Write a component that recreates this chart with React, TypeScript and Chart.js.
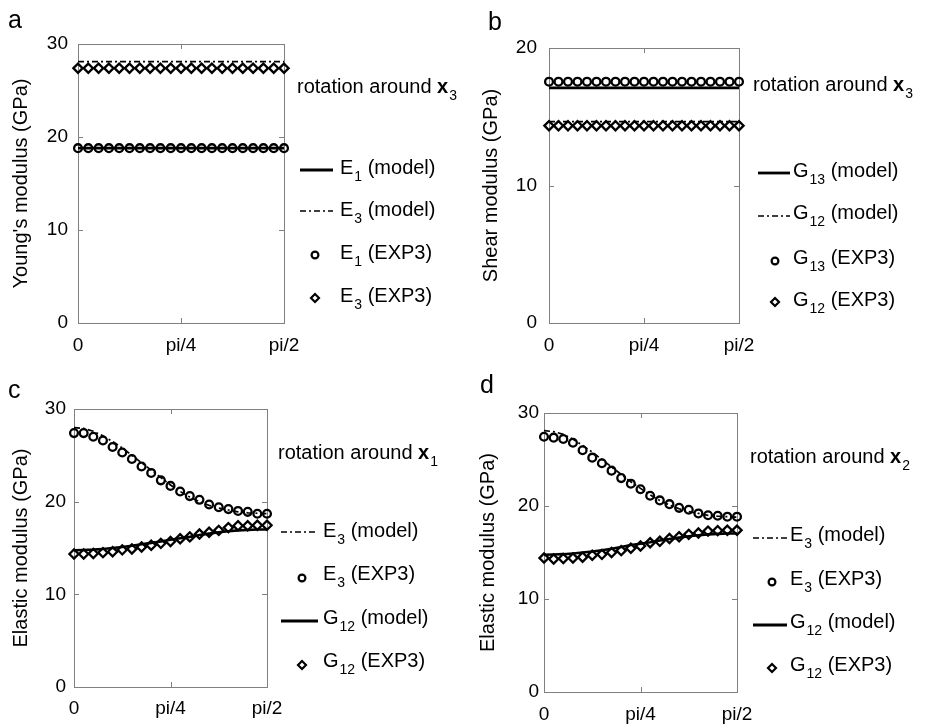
import React, { useEffect, useRef } from "react";
import { Chart, registerables } from "chart.js";
Chart.register(...registerables);

// ---------- data ----------
const angles = [0, 4.5, 9, 13.5, 18, 22.5, 27, 31.5, 36, 40.5, 45, 49.5, 54, 58.5, 63, 67.5, 72, 76.5, 81, 85.5, 90];
const xTickValues = [0, 45, 90];
const xTickLabels = ["0", "pi/4", "pi/2"];

// panel a
const aYTicks = [0, 10, 20, 30];
const aE1Model = [18.8, 18.8, 18.8, 18.8, 18.8, 18.8, 18.8, 18.8, 18.8, 18.8, 18.8, 18.8, 18.8, 18.8, 18.8, 18.8, 18.8, 18.8, 18.8, 18.8, 18.8];
const aE3Model = [28.1, 28.1, 28.1, 28.1, 28.1, 28.1, 28.1, 28.1, 28.1, 28.1, 28.1, 28.1, 28.1, 28.1, 28.1, 28.1, 28.1, 28.1, 28.1, 28.1, 28.1];
const aE1Exp = [18.8, 18.8, 18.8, 18.8, 18.8, 18.8, 18.8, 18.8, 18.8, 18.8, 18.8, 18.8, 18.8, 18.8, 18.8, 18.8, 18.8, 18.8, 18.8, 18.8, 18.8];
const aE3Exp = [27.4, 27.4, 27.4, 27.4, 27.4, 27.4, 27.4, 27.4, 27.4, 27.4, 27.4, 27.4, 27.4, 27.4, 27.4, 27.4, 27.4, 27.4, 27.4, 27.4, 27.4];

// panel b
const bYTicks = [0, 10, 20];
const bG13Model = [17.1, 17.1, 17.1, 17.1, 17.1, 17.1, 17.1, 17.1, 17.1, 17.1, 17.1, 17.1, 17.1, 17.1, 17.1, 17.1, 17.1, 17.1, 17.1, 17.1, 17.1];
const bG12Model = [14.65, 14.65, 14.65, 14.65, 14.65, 14.65, 14.65, 14.65, 14.65, 14.65, 14.65, 14.65, 14.65, 14.65, 14.65, 14.65, 14.65, 14.65, 14.65, 14.65, 14.65];
const bG13Exp = [17.55, 17.55, 17.55, 17.55, 17.55, 17.55, 17.55, 17.55, 17.55, 17.55, 17.55, 17.55, 17.55, 17.55, 17.55, 17.55, 17.55, 17.55, 17.55, 17.55, 17.55];
const bG12Exp = [14.35, 14.35, 14.35, 14.35, 14.35, 14.35, 14.35, 14.35, 14.35, 14.35, 14.35, 14.35, 14.35, 14.35, 14.35, 14.35, 14.35, 14.35, 14.35, 14.35, 14.35];

// panel c
const cYTicks = [0, 10, 20, 30];
const cE3Model = [28.0, 27.9, 27.6, 27.1, 26.5, 25.8, 25.0, 24.2, 23.4, 22.6, 21.8, 21.1, 20.5, 20.0, 19.6, 19.3, 19.1, 18.9, 18.8, 18.75, 18.7];
const cE3Exp = [27.4, 27.4, 27.0, 26.6, 25.9, 25.3, 24.6, 23.8, 23.1, 22.3, 21.7, 21.1, 20.6, 20.2, 19.7, 19.4, 19.2, 19.0, 18.9, 18.7, 18.7];
const cG12Model = [14.75, 14.78, 14.82, 14.9, 15.0, 15.1, 15.25, 15.4, 15.55, 15.7, 15.9, 16.05, 16.2, 16.4, 16.55, 16.7, 16.8, 16.9, 16.95, 17.0, 17.0];
const cG12Exp = [14.35, 14.35, 14.4, 14.5, 14.6, 14.8, 14.9, 15.1, 15.3, 15.5, 15.7, 16.0, 16.2, 16.5, 16.7, 16.9, 17.2, 17.4, 17.4, 17.45, 17.45];

// panel d
const dYTicks = [0, 10, 20, 30];
const dE3Model = [28.1, 28.0, 27.7, 27.2, 26.5, 25.8, 25.0, 24.2, 23.4, 22.6, 21.9, 21.2, 20.6, 20.1, 19.7, 19.4, 19.2, 19.0, 18.9, 18.85, 18.8];
const dE3Exp = [27.45, 27.35, 27.2, 26.8, 26.0, 25.2, 24.6, 23.8, 23.0, 22.4, 21.8, 21.1, 20.6, 20.2, 19.8, 19.6, 19.2, 19.0, 18.95, 18.85, 18.85];
const dG12Model = [14.75, 14.78, 14.82, 14.9, 15.0, 15.1, 15.25, 15.4, 15.6, 15.8, 15.95, 16.1, 16.3, 16.45, 16.6, 16.75, 16.85, 16.95, 17.0, 17.05, 17.05];
const dG12Exp = [14.4, 14.3, 14.35, 14.4, 14.5, 14.7, 14.8, 15.0, 15.2, 15.45, 15.7, 16.05, 16.2, 16.5, 16.7, 16.95, 17.1, 17.3, 17.35, 17.4, 17.4];

// ---------- styling helpers ----------
const FONT = '"Liberation Sans", Arial, Helvetica, sans-serif';
const W = 464;
const H = 363;

type Kind = "solid" | "dashdot" | "circle" | "diamond";
interface LegendItem { kind: Kind; main: string; sub: string; rest: string; y: number; ty: number; }
interface LegendCfg {
  letter: string; letterX: number; letterY: number;
  titleX: number; titleY: number; titleSub: string;
  lineX0: number; lineX1: number; markerX: number; textX: number;
  items: LegendItem[];
}

const DASHDOT = [6, 3, 2, 3];

function pts(arr: number[]) {
  return angles.map((a, i) => ({ x: a, y: arr[i] }));
}
function lineDs(arr: number[], kind: "solid" | "dashdot") {
  return {
    data: pts(arr), showLine: true, borderColor: "#000",
    borderWidth: kind === "solid" ? 2.6 : 1.7,
    borderDash: kind === "dashdot" ? DASHDOT : [],
    pointRadius: 0, tension: 0, clip: false, order: 2,
  };
}
function markerDs(arr: number[], kind: "circle" | "diamond") {
  return {
    data: pts(arr), showLine: false, pointStyle: kind === "circle" ? "circle" : "rectRot",
    pointRadius: kind === "circle" ? 3.9 : 4.6, pointBorderWidth: 2.3,
    pointBorderColor: "#000", pointBackgroundColor: "rgba(255,255,255,0)",
    borderColor: "#000", clip: false, order: 1,
  };
}

function drawSubText(ctx: CanvasRenderingContext2D, x: number, y: number, main: string, sub: string, rest: string, bold = false) {
  ctx.textBaseline = "middle";
  ctx.textAlign = "left";
  ctx.font = `${bold ? "bold " : ""}20px ${FONT}`;
  ctx.fillText(main, x, y);
  let cx = x + ctx.measureText(main).width + 1;
  ctx.font = `14px ${FONT}`;
  ctx.fillText(sub, cx, y + 9);
  cx += ctx.measureText(sub).width;
  if (rest) {
    ctx.font = `20px ${FONT}`;
    ctx.fillText(rest, cx, y);
  }
}

function makePlugin(leg: LegendCfg, yTicks: number[]) {
  return {
    id: "panelDecor",
    beforeDatasetsDraw(chart: any) {
      const ctx = chart.ctx as CanvasRenderingContext2D;
      const { left, right, top, bottom } = chart.chartArea;
      const xs = chart.scales.x;
      const ys = chart.scales.y;
      ctx.save();
      ctx.strokeStyle = "#808080";
      ctx.lineWidth = 1;
      ctx.strokeRect(Math.round(left) + 0.5, Math.round(top) + 0.5, Math.round(right - left), Math.round(bottom - top));
      ctx.beginPath();
      yTicks.forEach((v) => {
        const py = Math.round(ys.getPixelForValue(v)) + 0.5;
        ctx.moveTo(left, py); ctx.lineTo(left + 5, py);
        ctx.moveTo(right, py); ctx.lineTo(right - 5, py);
      });
      xTickValues.forEach((v) => {
        const px = Math.round(xs.getPixelForValue(v)) + 0.5;
        ctx.moveTo(px, bottom); ctx.lineTo(px, bottom - 5);
        ctx.moveTo(px, top); ctx.lineTo(px, top + 5);
      });
      ctx.stroke();
      ctx.restore();
    },
    afterDraw(chart: any) {
      const ctx = chart.ctx as CanvasRenderingContext2D;
      ctx.save();
      ctx.fillStyle = "#000";
      ctx.strokeStyle = "#000";
      // panel letter
      ctx.font = `25px ${FONT}`;
      ctx.textBaseline = "alphabetic";
      ctx.textAlign = "left";
      ctx.fillText(leg.letter, leg.letterX, leg.letterY);
      // title
      ctx.font = `20px ${FONT}`;
      ctx.textBaseline = "middle";
      const t = "rotation around ";
      ctx.fillText(t, leg.titleX, leg.titleY);
      const tw = ctx.measureText(t).width;
      drawSubText(ctx, leg.titleX + tw, leg.titleY, "x", leg.titleSub, "", true);
      // items
      leg.items.forEach((it) => {
        ctx.save();
        if (it.kind === "solid" || it.kind === "dashdot") {
          ctx.beginPath();
          ctx.lineWidth = it.kind === "solid" ? 2.8 : 1.7;
          ctx.setLineDash(it.kind === "dashdot" ? DASHDOT : []);
          ctx.moveTo(leg.lineX0, it.y);
          ctx.lineTo(leg.lineX1, it.y);
          ctx.stroke();
        } else if (it.kind === "circle") {
          ctx.beginPath();
          ctx.lineWidth = 2.2;
          ctx.arc(leg.markerX, it.y, 3.4, 0, Math.PI * 2);
          ctx.stroke();
        } else {
          ctx.beginPath();
          ctx.lineWidth = 2.2;
          const r = 4;
          ctx.moveTo(leg.markerX, it.y - r);
          ctx.lineTo(leg.markerX + r, it.y);
          ctx.lineTo(leg.markerX, it.y + r);
          ctx.lineTo(leg.markerX - r, it.y);
          ctx.closePath();
          ctx.stroke();
        }
        ctx.restore();
        drawSubText(ctx, leg.textX, it.ty, it.main, it.sub, it.rest);
      });
      ctx.restore();
    },
  };
}

interface PanelCfg {
  left: number; top: number;
  area: { l: number; t: number; r: number; b: number };
  yMax: number; yTicks: number[]; yTitle: string; yTitlePad: number; yTickPad: number; xTickPad: number;
  datasets: any[];
  legend: LegendCfg;
}

function Panel({ cfg }: { cfg: PanelCfg }) {
  const ref = useRef<HTMLCanvasElement>(null);
  useEffect(() => {
    if (!ref.current) return;
    const yTicks = cfg.yTicks;
    const chart = new Chart(ref.current, {
      type: "scatter",
      data: { datasets: cfg.datasets },
      options: {
        animation: false,
        responsive: false,
        devicePixelRatio: 1,
        layout: { padding: { left: 0, top: cfg.area.t, right: W - cfg.area.r, bottom: 0 } },
        plugins: { legend: { display: false }, tooltip: { enabled: false } },
        scales: {
          x: {
            type: "linear", min: 0, max: 90,
            afterBuildTicks: (s: any) => { s.ticks = xTickValues.map((v) => ({ value: v })); },
            afterFit: (s: any) => { s.height = H - cfg.area.b; },
            ticks: {
              callback: (v: any) => { const i = xTickValues.indexOf(Number(v)); return i >= 0 ? xTickLabels[i] : ""; },
              color: "#000", font: { family: FONT, size: 19 }, padding: cfg.xTickPad,
              maxRotation: 0, minRotation: 0, autoSkip: false,
            },
            grid: { display: false, drawTicks: false },
            border: { display: false },
          },
          y: {
            type: "linear", min: 0, max: cfg.yMax,
            afterBuildTicks: (s: any) => { s.ticks = yTicks.map((v) => ({ value: v })); },
            afterFit: (s: any) => { s.width = cfg.area.l; },
            ticks: {
              callback: (v: any) => String(v),
              color: "#000", font: { family: FONT, size: 19 }, padding: cfg.yTickPad,
              autoSkip: false,
            },
            title: {
              display: true, text: cfg.yTitle, color: "#000",
              font: { family: FONT, size: 20 }, padding: { top: cfg.yTitlePad, bottom: 0 },
            },
            grid: { display: false, drawTicks: false },
            border: { display: false },
          },
        },
      } as any,
      plugins: [makePlugin(cfg.legend, yTicks) as any],
    });
    return () => chart.destroy();
  }, []);
  return (
    <canvas
      ref={ref}
      width={W}
      height={H}
      style={{ position: "absolute", left: cfg.left, top: cfg.top, width: W, height: H }}
    />
  );
}

const panels: PanelCfg[] = [
  {
    left: 0, top: 0,
    area: { l: 78, t: 44, r: 284, b: 323 },
    yMax: 30, yTicks: aYTicks, yTitle: "Young's modulus (GPa)", yTitlePad: 9, yTickPad: 10, xTickPad: 11,
    datasets: [markerDs(aE1Exp, "circle"), markerDs(aE3Exp, "diamond"), lineDs(aE1Model, "solid"), lineDs(aE3Model, "dashdot")],
    legend: {
      letter: "a", letterX: 8, letterY: 28,
      titleX: 297, titleY: 87, titleSub: "3",
      lineX0: 300, lineX1: 333, markerX: 315, textX: 340,
      items: [
        { kind: "solid", main: "E", sub: "1", rest: " (model)", y: 170, ty: 168 },
        { kind: "dashdot", main: "E", sub: "3", rest: " (model)", y: 211, ty: 210 },
        { kind: "circle", main: "E", sub: "1", rest: " (EXP3)", y: 255, ty: 253 },
        { kind: "diamond", main: "E", sub: "3", rest: " (EXP3)", y: 298, ty: 296 },
      ],
    },
  },
  {
    left: 464, top: 0,
    area: { l: 85, t: 48, r: 275, b: 323 },
    yMax: 20, yTicks: bYTicks, yTitle: "Shear modulus (GPa)", yTitlePad: 15, yTickPad: 12, xTickPad: 11,
    datasets: [markerDs(bG13Exp, "circle"), markerDs(bG12Exp, "diamond"), lineDs(bG13Model, "solid"), lineDs(bG12Model, "dashdot")],
    legend: {
      letter: "b", letterX: 24, letterY: 30,
      titleX: 289, titleY: 85, titleSub: "3",
      lineX0: 294, lineX1: 326, markerX: 311, textX: 329,
      items: [
        { kind: "solid", main: "G", sub: "13", rest: " (model)", y: 173, ty: 171 },
        { kind: "dashdot", main: "G", sub: "12", rest: " (model)", y: 216, ty: 213 },
        { kind: "circle", main: "G", sub: "13", rest: " (EXP3)", y: 261, ty: 258 },
        { kind: "diamond", main: "G", sub: "12", rest: " (EXP3)", y: 302, ty: 300 },
      ],
    },
  },
  {
    left: 0, top: 363,
    area: { l: 74, t: 46, r: 267, b: 324 },
    yMax: 30, yTicks: cYTicks, yTitle: "Elastic modulus (GPa)", yTitlePad: 9, yTickPad: 8, xTickPad: 10,
    datasets: [markerDs(cE3Exp, "circle"), markerDs(cG12Exp, "diamond"), lineDs(cE3Model, "dashdot"), lineDs(cG12Model, "solid")],
    legend: {
      letter: "c", letterX: 8, letterY: 35,
      titleX: 278, titleY: 90, titleSub: "1",
      lineX0: 281, lineX1: 318, markerX: 302, textX: 323,
      items: [
        { kind: "dashdot", main: "E", sub: "3", rest: " (model)", y: 169, ty: 168 },
        { kind: "circle", main: "E", sub: "3", rest: " (EXP3)", y: 215, ty: 211 },
        { kind: "solid", main: "G", sub: "12", rest: " (model)", y: 258, ty: 255 },
        { kind: "diamond", main: "G", sub: "12", rest: " (EXP3)", y: 302, ty: 298 },
      ],
    },
  },
  {
    left: 464, top: 363,
    area: { l: 80, t: 50, r: 273, b: 329 },
    yMax: 30, yTicks: dYTicks, yTitle: "Elastic modulus (GPa)", yTitlePad: 12, yTickPad: 5, xTickPad: 11,
    datasets: [markerDs(dE3Exp, "circle"), markerDs(dG12Exp, "diamond"), lineDs(dE3Model, "dashdot"), lineDs(dG12Model, "solid")],
    legend: {
      letter: "d", letterX: 16, letterY: 30,
      titleX: 286, titleY: 94, titleSub: "2",
      lineX0: 289, lineX1: 323, markerX: 308, textX: 326,
      items: [
        { kind: "dashdot", main: "E", sub: "3", rest: " (model)", y: 175, ty: 172 },
        { kind: "circle", main: "E", sub: "3", rest: " (EXP3)", y: 219, ty: 216 },
        { kind: "solid", main: "G", sub: "12", rest: " (model)", y: 262, ty: 259 },
        { kind: "diamond", main: "G", sub: "12", rest: " (EXP3)", y: 305, ty: 302 },
      ],
    },
  },
];

export default function App() {
  return (
    <div style={{ position: "absolute", left: 0, top: 0, width: 928, height: 726, background: "#fff" }}>
      {panels.map((p, i) => (
        <Panel key={i} cfg={p} />
      ))}
    </div>
  );
}
